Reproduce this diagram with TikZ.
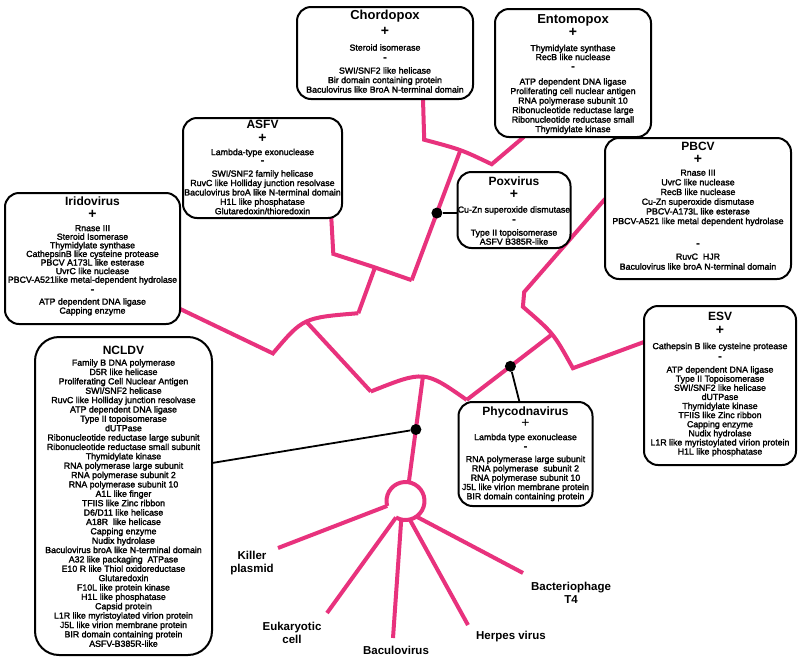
\documentclass[tikz,border=0pt]{standalone}
\usepackage{fontspec}
\setmainfont{Liberation Sans}
\newfontfamily\itemfont{Liberation Sans}[FakeBold=2]
\definecolor{treepink}{RGB}{232,50,125}
\tikzset{
  tree/.style={draw=treepink, line width=4pt},
  link/.style={draw=black, line width=1.8pt},
  dotnode/.style={circle, fill=black, inner sep=0pt, minimum size=11pt},
  vbox/.style={draw=black, fill=white, line width=2pt, rounded corners=14pt, inner sep=0pt},
  ttl/.style={font=\fontsize{12}{14}\selectfont\bfseries, anchor=mid, inner sep=0pt},
  bigttl/.style={font=\fontsize{13}{15}\selectfont\bfseries, anchor=mid, inner sep=0pt},
  sgn/.style={font=\fontsize{14}{16}\selectfont\bfseries, anchor=mid, inner sep=0pt},
  minus/.style={font=\fontsize{12}{13}\selectfont\bfseries, anchor=center, inner sep=0pt},
  plainsgn/.style={font=\fontsize{14}{16}\selectfont, anchor=mid, inner sep=0pt},
  item/.style={font=\itemfont\fontsize{8.8}{9.3}\selectfont, anchor=mid, inner sep=0pt},
  leaf/.style={font=\fontsize{11.5}{13}\selectfont\bfseries, align=center, inner sep=0pt},
}
\newcommand\vlines[5]{\foreach \vtxt [count=\vi] in {#5} {\node[item] (#1-\vi) at (#2,{#3+(\vi-1)*#4}) {\vtxt};}}
\begin{document}
\begin{tikzpicture}[x=1pt,y=-1pt]
\useasboundingbox (0,0) rectangle (800,662);
\fill[white] (0,0) rectangle (800,662);

% ---------- tree coordinates ----------
\coordinate (cs0) at (423,99);
\coordinate (cs1) at (424.2,139.7);
\coordinate (pm) at (460.4,150.2);
\coordinate (pe) at (491.7,164.2);
\coordinate (en0) at (523.75,137);
\coordinate (ps) at (411.7,280.2);
\coordinate (pd) at (436.9,213);
\coordinate (as0) at (331.3,218);
\coordinate (as1) at (333.3,253.9);
\coordinate (am) at (375,267.5);
\coordinate (i0) at (272.9,353.4);
\coordinate (im) at (306.25,321.6);
\coordinate (ie) at (358.3,313.2);
\coordinate (ir0) at (180,308.9);
\coordinate (r0) at (370.8,391.5);
\coordinate (rm) at (422.9,376.6);
\coordinate (re) at (466.7,399.9);
\coordinate (nd) at (415.9,429.5);
\coordinate (ringc) at (405.5,501);
\coordinate (bm) at (552.1,334.3);
\coordinate (phd) at (510.4,366.3);
\coordinate (b0) at (522.9,306.8);
\coordinate (be) at (572.9,368.2);
\coordinate (pb1) at (524.2,292);
\coordinate (pb0) at (605,199);
\coordinate (es0) at (644,342);
\coordinate (kp) at (278,548);
\coordinate (eu) at (327,613);
\coordinate (bv) at (393,638);
\coordinate (hv) at (468,625);
\coordinate (t4) at (523,573);
\path (ringc) ++(195:19pt) coordinate (rk);
\path (ringc) ++(-120:19pt) coordinate (reu);
\path (ringc) ++(-103:19pt) coordinate (rbv);
\path (ringc) ++(-77:19pt) coordinate (rhv);
\path (ringc) ++(-55:19pt) coordinate (rt4);
\path (ringc) ++(80:19pt) coordinate (rtop);
\coordinate (px) at (458,213);
\coordinate (nc) at (212,463);
\coordinate (phin) at (519.5,402);

% ---------- pink tree ----------
\draw[tree] (cs0) -- (cs1) .. controls (461.2,149.6) .. (pe) -- (en0);
\draw[tree] (pm) -- (ps);
\draw[tree] (as0) -- (as1) .. controls (375.8,267.65) .. (ps);
\draw[tree] (am) -- (ie);
\draw[tree] (ir0) -- (i0) .. controls (303.1,317.7) .. (ie);
\draw[tree] (im) -- (r0);
\draw[tree] (r0) .. controls (424.3,370.2) .. (re);
\draw[tree] (rm) -- (rtop);
\draw[tree] (re) -- (bm);
\draw[tree] (pb0) -- (pb1) -- (b0) .. controls (553.5,333.2) .. (be) -- (es0);
\draw[tree] (reu) arc[start angle=-120, end angle=195, radius=19pt];
\draw[tree] (rk) -- (kp);
\draw[tree] (reu) -- (eu);
\draw[tree] (rbv) -- (bv);
\draw[tree] (rhv) -- (hv);
\draw[tree] (rt4) -- (t4);

% ---------- boxes ----------
\node[vbox, minimum width=176pt, minimum height=92pt] (chordo) at (385,53) {};
\node[vbox, minimum width=156pt, minimum height=128pt] (ento) at (573,73) {};
\node[vbox, minimum width=159pt, minimum height=100pt] (asfv) at (262.5,168) {};
\node[vbox, minimum width=113pt, minimum height=76pt] (poxv) at (514,210) {};
\node[vbox, minimum width=186pt, minimum height=141pt] (pbcv) at (698,208.5) {};
\node[vbox, minimum width=175pt, minimum height=131pt] (irido) at (92.5,258.5) {};
\node[vbox, rounded corners=24pt, minimum width=177pt, minimum height=318pt] (ncldv) at (123.5,496) {};
\node[vbox, minimum width=152pt, minimum height=159pt] (esv) at (720,385.5) {};
\node[vbox, minimum width=134pt, minimum height=104pt] (phyco) at (525.5,454) {};

% ---------- black connectors and dots ----------
\node[dotnode] (poxdot) at (pd) {};
\node[dotnode] (ncldot) at (nd) {};
\node[dotnode] (phydot) at (phd) {};
\draw[link] (poxdot) -- (px);
\draw[link] (ncldot) -- (nc);
\draw[link] (phydot) -- (phin);

% ---------- Chordopox ----------
\node[bigttl] (chordo-t) at (385,17) {Chordopox};
\node[sgn] (chordo-p) at (385,33) {+};
\vlines{chordo-a}{385}{48}{9.5}{Steroid isomerase}
\node[minus] (chordo-m) at (385,59.5) {-};
\vlines{chordo-b}{385}{71}{9.5}{SWI/SNF2 like helicase,Bir domain containing protein,Baculovirus like BroA N-terminal domain}

% ---------- Entomopox ----------
\node[bigttl] (ento-t) at (573,21) {Entomopox};
\node[sgn] (ento-p) at (573,34) {+};
\vlines{ento-a}{573}{48.5}{9}{Thymidylate synthase,RecB like nuclease}
\node[minus] (ento-m) at (573,69) {-};
\vlines{ento-b}{573}{82}{9.5}{ATP dependent DNA ligase,Proliferating cell nuclear antigen,RNA polymerase subunit 10,Ribonucleotide reductase large,Ribonucleotide reductase small,Thymidylate kinase}

% ---------- ASFV ----------
\node[ttl] (asfv-t) at (262.5,126) {ASFV};
\node[sgn] (asfv-p) at (262.5,139.5) {+};
\vlines{asfv-a}{262.5}{152.5}{9}{Lambda-type exonuclease}
\node[minus] (asfv-m) at (262.5,163) {-};
\vlines{asfv-b}{262.5}{174}{9.4}{SWI/SNF2 family helicase,RuvC like Holliday junction resolvase,Baculovirus broA like N-terminal domain,H1L like phosphatase,Glutaredoxin/thioredoxin}

% ---------- Poxvirus ----------
\node[ttl] (poxv-t) at (514,183) {Poxvirus};
\node[sgn] (poxv-p) at (514,196) {+};
\vlines{poxv-a}{514}{210}{9}{Cu-Zn superoxide dismutase}
\node[minus] (poxv-m) at (514,221.5) {-};
\vlines{poxv-b}{514}{233}{9}{Type II topoisomerase,ASFV B385R-like}

% ---------- PBCV ----------
\node[ttl] (pbcv-t) at (698,148) {PBCV};
\node[sgn] (pbcv-p) at (698,161) {+};
\vlines{pbcv-a}{698}{173}{9.7}{Rnase III,UvrC like nuclease,RecB like nuclease,Cu-Zn superoxide dismutase,PBCV-A173L like esterase,PBCV-A521 like metal dependent hydrolase}
\node[minus] (pbcv-m) at (698,245.5) {-};
\vlines{pbcv-b}{698}{257}{10}{RuvC\ \ HJR,Baculovirus like broA N-terminal domain}

% ---------- Iridovirus ----------
\node[ttl] (irido-t) at (92.5,203) {Iridovirus};
\node[sgn] (irido-p) at (92.5,216) {+};
\vlines{irido-a}{92.5}{228.5}{8.6}{Rnase III,Steroid Isomerase,Thymidylate synthase,CathepsinB like cysteine protease,PBCV A173L like esterase,UvrC like nuclease,PBCV-A521like metal-dependent hydrolase}
\node[minus] (irido-m) at (92.5,291.5) {-};
\vlines{irido-b}{92.5}{302}{9}{ATP dependent DNA ligase,Capping enzyme}

% ---------- NCLDV ----------
\node[ttl] (ncldv-t) at (123.5,352) {NCLDV};
\vlines{ncldv-a}{123.5}{363}{9.37}{Family B DNA polymerase,D5R like helicase,Proliferating Cell Nuclear Antigen,SWI/SNF2 helicase,RuvC like Holliday junction resolvase,ATP dependent DNA ligase,Type II topoisomerase,dUTPase,Ribonucleotide reductase large subunit,Ribonucleotide reductase small subunit,Thymidylate kinase,RNA polymerase large subunit,RNA polymerase subunit 2,RNA polymerase subunit 10,A1L like finger,TFIIS like Zinc ribbon,D6/D11 like helicase,A18R\ \ like helicase,Capping enzyme,Nudix hydrolase,Baculovirus broA like N-terminal domain,A32 like packaging\ \ ATPase,E10 R like Thiol oxidoreductase,Glutaredoxin,F10L like protein kinase,H1L like phosphatase,Capsid protein,L1R like myristoylated virion protein,J5L like virion membrane protein,BIR domain containing protein,ASFV-B385R-like}

% ---------- ESV ----------
\node[ttl] (esv-t) at (720,318) {ESV};
\node[sgn] (esv-p) at (720,332) {+};
\vlines{esv-a}{720}{346.5}{9}{Cathepsin B like cysteine protease}
\node[minus] (esv-m) at (720,358.5) {-};
\vlines{esv-b}{720}{370}{9.1}{ATP dependent DNA ligase,Type II Topoisomerase,SWI/SNF2 like helicase,dUTPase,Thymidylate kinase,TFIIS like Zinc ribbon,Capping enzyme,Nudix hydrolase,L1R like myristoylated virion protein,H1L like phosphatase}

% ---------- Phycodnavirus ----------
\node[ttl] (phyco-t) at (525.5,412.5) {Phycodnavirus};
\node[plainsgn] (phyco-p) at (525.5,425) {+};
\vlines{phyco-a}{525.5}{437.5}{9}{Lambda type exonuclease}
\node[minus] (phyco-m) at (525.5,448.5) {-};
\vlines{phyco-b}{525.5}{459.5}{9.3}{RNA polymerase large subunit,RNA polymerase\ \ subunit 2,RNA polymerase subunit 10,J5L like virion membrane protein,BIR domain containing protein}

% ---------- leaves ----------
\node[leaf] (kp-l) at (252,563.5) {Killer\\plasmid};
\node[leaf] (eu-l) at (292,633) {Eukaryotic\\cell};
\node[leaf] (bv-l) at (396,650) {Baculovirus};
\node[leaf] (hv-l) at (511,637) {Herpes virus};
\node[leaf] (t4-l) at (571,592.5) {Bacteriophage\\T4};
\end{tikzpicture}
\end{document}
